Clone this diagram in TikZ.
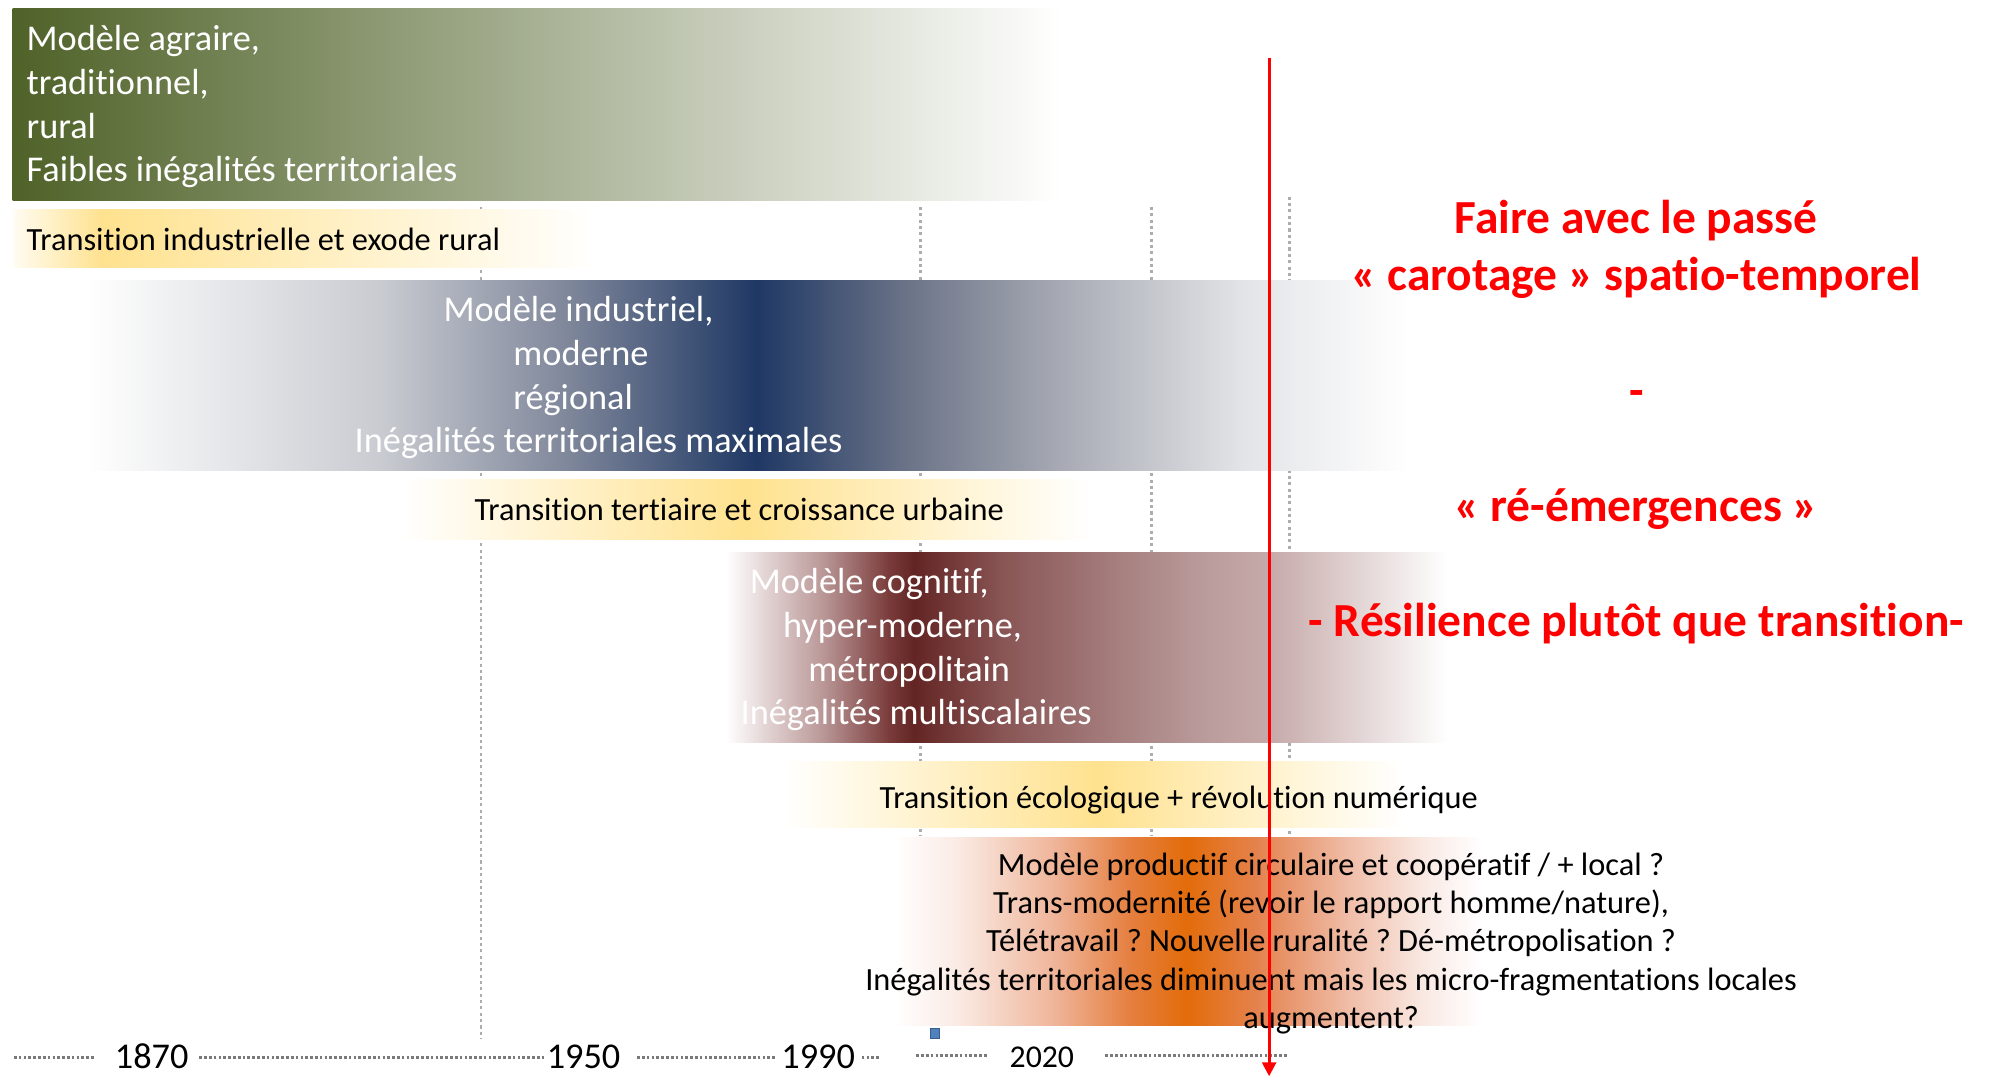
\documentclass[tikz,border=0pt]{standalone}
\usepackage{fontspec}
\setmainfont{Carlito}[Ligatures={NoCommon,NoRare,NoContextual}]
\frenchspacing
\usetikzlibrary{arrows.meta}
\definecolor{cRed}{HTML}{FF0000}
\definecolor{cVline}{HTML}{ADADAD}
\definecolor{cTl}{HTML}{7A7A7A}
\definecolor{cSqFill}{HTML}{4F81BD}
\definecolor{cSqDraw}{HTML}{385D8A}
\newcommand\fBig{\fontsize{14.3pt}{17pt}\selectfont}
\newcommand\fSmall{\fontsize{12.75pt}{15pt}\selectfont}
\newcommand\fRed{\fontsize{18.7pt}{22pt}\selectfont\bfseries}
\newcommand\fYear{\fontsize{14.3pt}{17pt}\selectfont}
\newcommand\fYearS{\fontsize{12.5pt}{15pt}\selectfont}
\newcommand\gradbar[3]{%
  \foreach \a/\b/\ca/\cb in {#3}{%
    \definecolor{gca}{HTML}{\ca}\definecolor{gcb}{HTML}{\cb}%
    \shade[left color=gca,right color=gcb] (\a,#1) rectangle (\b+0.6,#2);
  }%
}
\tikzset{
  lbl/.style={inner sep=0pt, outer sep=0pt},
  wbig/.style={lbl, text=white, font=\fBig, anchor=base west},
  bsmall/.style={lbl, text=black, font=\fSmall},
  redtxt/.style={lbl, text=cRed, font=\fRed, anchor=base},
  vline/.style={draw=cVline, line width=1.1pt, dash pattern=on 1.2pt off 1.3pt},
  tline/.style={draw=cTl, line width=1.3pt, dash pattern=on 1.05pt off 0.85pt},
  redarrow/.style={draw=cRed, line width=1.1pt, -{Triangle[width=5.5pt,length=5.5pt]}},
}
\begin{document}
\begin{tikzpicture}[x=0.5pt,y=-0.5pt]
\useasboundingbox (0,0) rectangle (1568,848);
\fill[white] (0,0) rectangle (1568,848);

% vertical dotted guide lines (behind the bars)
\draw[vline] (379,163) -- (379,819);
\draw[vline] (725,163) -- (725,659);
\draw[vline] (907,163) -- (907,659);
\draw[vline] (1016,155) -- (1016,659);

% green band
\gradbar{7}{158}{10/835/4F6228/FFFFFF}
% yellow band 1
\gradbar{165}{211}{11/80/FFFBF0/FFE28F, 80/470/FFE28F/FFFFFF}
% blue band
\gradbar{221}{371}{68/300/FFFFFF/C9CBD1, 300/450/C9CBD1/7D8599, 450/596/7D8599/1F3864, 596/716/1F3864/6C7488, 716/830/6C7488/A5A8B2, 830/980/A5A8B2/E3E4E7, 980/1110/E3E4E7/FFFFFF}
% yellow band 2
\gradbar{378}{425}{316/588/FFFFFF/FFE28F, 588/860/FFE28F/FFFFFF}
% maroon band
\gradbar{435}{585}{572/600/FFFFFF/E6D8D8, 600/650/E6D8D8/B89494, 650/700/B89494/7A3C3B, 700/720/7A3C3B/632523, 720/790/632523/895555, 790/870/895555/A37A7A, 870/950/A37A7A/BB9C9C, 950/1000/BB9C9C/C6A9A9, 1000/1140/C6A9A9/FFFFFF}
% yellow band 3
\gradbar{600}{652}{617/865/FFFFFF/FFE28F, 865/1105/FFE28F/FFFFFF}
% orange band
\gradbar{660}{808}{705/755/FFFFFF/FAEAE3, 755/830/FAEAE3/EFB59A, 830/890/EFB59A/E57F40, 890/935/E57F40/E36C0A, 935/990/E36C0A/E4824E, 990/1060/E4824E/EFBBA5, 1060/1120/EFBBA5/F9E8E2, 1120/1167/F9E8E2/FFFFFF}

% green text
\node[wbig] (g1) at (21,39.5) {Modèle agraire,};
\node[wbig] (g2) at (21,74.2) {traditionnel,};
\node[wbig] (g3) at (21,108.8) {rural};
\node[wbig] (g4) at (21,143.3) {Faibles inégalités territoriales};

% yellow 1
\node[bsmall, anchor=base west] (y1) at (21,197.3) {Transition industrielle et exode rural};

% blue text
\node[wbig] (b1) at (349.5,253.5) {Modèle industriel,};
\node[wbig] (b2) at (404.5,288.2) {moderne};
\node[wbig] (b3) at (404.5,322.6) {régional};
\node[wbig] (b4) at (279.5,356.9) {Inégalités territoriales maximales};

% yellow 2
\node[bsmall, anchor=base west] (y2) at (374,409.8) {Transition tertiaire et croissance urbaine};

% maroon text
\node[wbig] (m1) at (590.8,467.6) {Modèle cognitif,};
\node[wbig] (m2) at (617,502) {hyper-moderne,};
\node[wbig] (m3) at (637,536.6) {métropolitain};
\node[wbig] (m4) at (583.6,570.8) {Inégalités multiscalaires};

% yellow 3
\node[bsmall, anchor=base west] (y3) at (693,637) {Transition écologique + révolution numérique};

% orange text
\node[bsmall, anchor=base] (o1) at (1048.8,689.5) {Modèle productif circulaire et coopératif / + local ?};
\node[bsmall, anchor=base] (o2) at (1048.8,719.7) {Trans-modernité (revoir le rapport homme/nature),};
\node[bsmall, anchor=base] (o3) at (1048.8,749.9) {Télétravail ? Nouvelle ruralité ? Dé-métropolisation ?};
\node[bsmall, anchor=base] (o4) at (1048.8,780.1) {Inégalités territoriales diminuent mais les micro-fragmentations locales};
\node[bsmall, anchor=base] (o5) at (1048.8,810.3) {augmentent?};

% red text
\node[redtxt] (r1) at (1289.3,183.9) {Faire avec le passé};
\node[redtxt] (r2) at (1289.3,228.5) {« carotage » spatio-temporel};
\node[redtxt] (r3) at (1289.3,320) {-};
\node[redtxt] (r4) at (1289.3,411) {« ré-émergences »};
\node[redtxt] (r5) at (1289.3,501.7) {- Résilience plutôt que transition-};

% timeline
\draw[tline] (11,833) -- (75,833);
\draw[tline] (157,833) -- (430,833);
\draw[tline] (502,833) -- (611,833);
\draw[tline] (679,833.5) -- (694,833.5);
\draw[tline] (722,831.5) -- (778,831.5);
\draw[tline] (871,831.5) -- (1014,831.5);
\node[lbl, font=\fYear, anchor=base] (t1870) at (119.5,841.9) {1870};
\node[lbl, font=\fYear, anchor=base] (t1950) at (459.8,841.9) {1950};
\node[lbl, font=\fYear, anchor=base] (t1990) at (644.7,841.9) {1990};
\node[lbl, font=\fYearS, anchor=base] (t2020) at (820.9,841.4) {2020};

% small square
\filldraw[fill=cSqFill, draw=cSqDraw, line width=0.4pt] (733,810) rectangle (740,818);

% red arrow
\coordinate (rtop) at (1000,46);
\coordinate (rbot) at (1000,848);
\draw[redarrow] (rtop) -- (rbot);
\end{tikzpicture}
\end{document}
